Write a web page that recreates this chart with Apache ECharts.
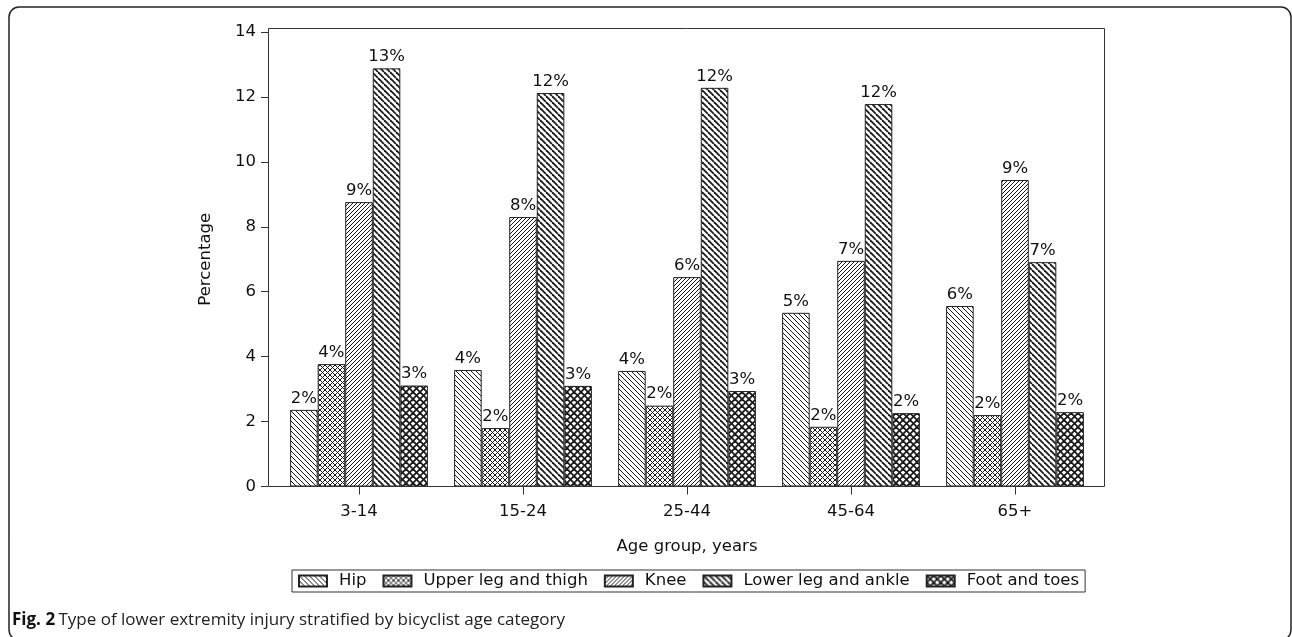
<!DOCTYPE html>
<html><head><meta charset="utf-8">
<script src="https://cdn.jsdelivr.net/npm/echarts@6/dist/echarts.min.js"></script>
<style>html,body{margin:0;padding:0;background:#fff}#c{width:1292px;height:637px}</style>
</head><body><div id="c"></div>
<script>
const categories = ['3-14', '15-24', '25-44', '45-64', '65+'];
const seriesNames = ['Hip', 'Upper leg and thigh', 'Knee', 'Lower leg and ankle', 'Foot and toes'];
const hip = [2.36, 3.59, 3.56, 5.35, 5.56];
const upperLeg = [3.77, 1.80, 2.49, 1.84, 2.20];
const knee = [8.76, 8.30, 6.45, 6.95, 9.44];
const lowerLeg = [12.88, 12.12, 12.28, 11.78, 6.91];
const foot = [3.11, 3.10, 2.94, 2.26, 2.29];
const yTicks = [0, 2, 4, 6, 8, 10, 12, 14];
const xTitle = 'Age group, years';
const yTitle = 'Percentage';
const captionBold = 'Fig. 2';
const captionText = 'Type of lower extremity injury stratified by bicyclist age category';

const FONT = "'DejaVu Sans', sans-serif";
const INK = '#111';

function makePattern(size, lw, dirs) {
  const c = document.createElement('canvas');
  c.width = size; c.height = size;
  const g = c.getContext('2d');
  g.fillStyle = '#fff'; g.fillRect(0, 0, size, size);
  g.strokeStyle = '#1a1a1a'; g.lineWidth = lw;
  dirs.forEach(d => {
    for (let k = -1; k <= 1; k++) {
      g.beginPath();
      if (d === '\\') { g.moveTo(k * size, 0); g.lineTo(k * size + size, size); }
      else { g.moveTo(k * size, size); g.lineTo(k * size + size, 0); }
      g.stroke();
    }
  });
  return { image: c, repeat: 'repeat' };
}

const dataSets = [hip, upperLeg, knee, lowerLeg, foot];
const patterns = [
  makePattern(5, 1, ['\\']),
  makePattern(5, 1, ['\\', '/']),
  makePattern(4, 1, ['/']),
  makePattern(6, 1.8, ['\\']),
  makePattern(7, 1.8, ['\\', '/'])
];

const series = seriesNames.map((name, i) => ({
  name: name,
  type: 'bar',
  data: dataSets[i],
  barGap: '0%',
  barCategoryGap: '16%',
  itemStyle: { color: patterns[i], borderColor: '#222', borderWidth: 1 },
  label: {
    show: true, position: 'top', distance: 3,
    fontFamily: FONT, fontSize: 16.5, color: INK,
    formatter: p => Math.round(p.value) + '%'
  }
}));

const chart = echarts.init(document.getElementById('c'), null, { renderer: 'canvas' });
chart.setOption({
  animation: false,
  backgroundColor: '#fff',
  grid: { left: 277, right: 195, top: 32, bottom: 150.5 },
  xAxis: {
    type: 'category', data: categories,
    axisLine: { show: false },
    axisTick: { show: true, alignWithLabel: true, length: 8, lineStyle: { color: '#333' } },
    axisLabel: { fontFamily: FONT, fontSize: 16.5, color: INK, margin: 17 },
    name: xTitle, nameLocation: 'middle', nameGap: 52,
    nameTextStyle: { fontFamily: FONT, fontSize: 16.5, color: INK }
  },
  yAxis: {
    type: 'value', min: yTicks[0], max: yTicks[yTicks.length - 1], interval: 2,
    offset: 9,
    axisLine: { show: false },
    axisTick: { show: true, length: 7, lineStyle: { color: '#333' } },
    splitLine: { show: false },
    axisLabel: { fontFamily: FONT, fontSize: 16.5, color: INK, margin: 12 },
    name: yTitle, nameLocation: 'middle', nameGap: 54,
    nameTextStyle: { fontFamily: FONT, fontSize: 16.5, color: INK }
  },
  legend: {
    left: 292, top: 570, orient: 'horizontal',
    padding: [2, 6, 2, 6], itemGap: 16, itemWidth: 28, itemHeight: 11,
    icon: 'rect',
    borderColor: '#333', borderWidth: 1,
    textStyle: { fontFamily: FONT, fontSize: 16.5, color: INK, padding: [0, 0, 0, 7], lineHeight: 18 },
    data: seriesNames
  },
  graphic: [
    { type: 'rect', z: 100, silent: true,
      shape: { x: 268.5, y: 28.5, width: 836, height: 458 },
      style: { fill: null, stroke: '#333', lineWidth: 1 } },
    { type: 'rect', z: 100, silent: true,
      shape: { x: 9, y: 7, width: 1282, height: 633, r: 10 },
      style: { fill: null, stroke: '#222', lineWidth: 1.5 } },
    { type: 'text', left: 12, top: 612, z: 100, silent: true,
      style: {
        text: '{b|' + captionBold + '} {n|' + captionText + '}',
        rich: {
          b: { fontFamily: "'Open Sans', sans-serif", fontWeight: 'bold', fontSize: 17, fill: '#111' },
          n: { fontFamily: "'Open Sans', sans-serif", fontSize: 17, fill: '#222' }
        }
      } }
  ],
  series: series
});
</script>
</body></html>
